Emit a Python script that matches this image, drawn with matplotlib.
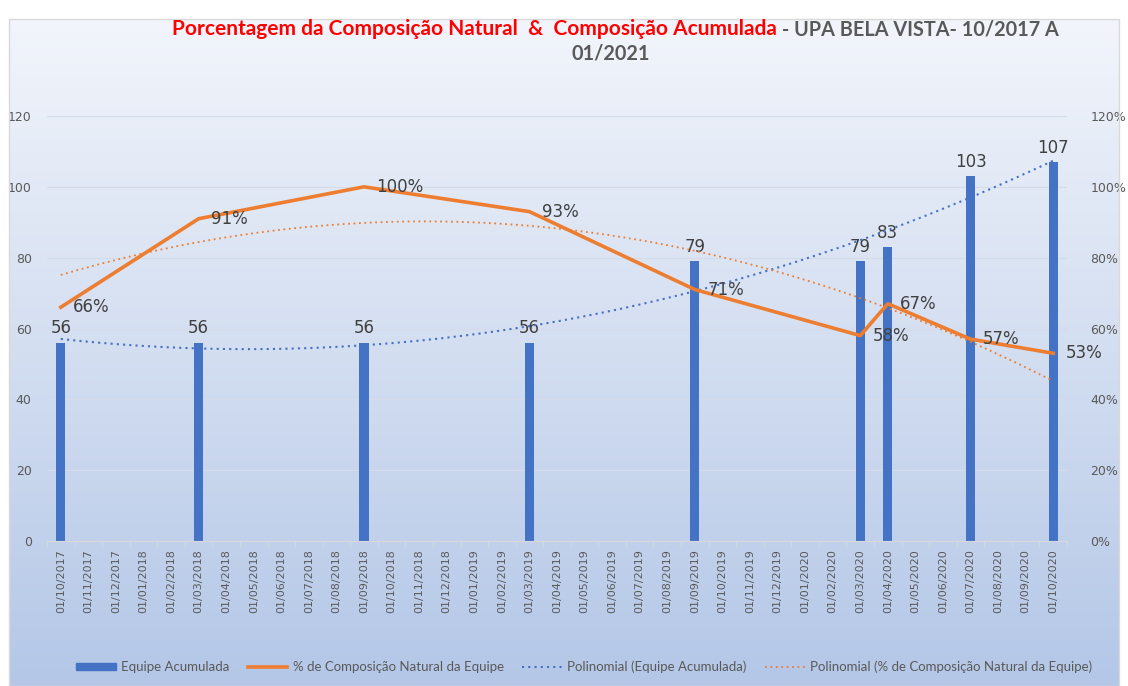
import numpy as np
import matplotlib
matplotlib.use("Agg")
import matplotlib.pyplot as plt
from matplotlib.lines import Line2D
from matplotlib.patches import Patch

# ---- data ----
month_labels = ["01/10/2017", "01/11/2017", "01/12/2017", "01/01/2018", "01/02/2018", "01/03/2018",
                "01/04/2018", "01/05/2018", "01/06/2018", "01/07/2018", "01/08/2018", "01/09/2018",
                "01/10/2018", "01/11/2018", "01/12/2018", "01/01/2019", "01/02/2019", "01/03/2019",
                "01/04/2019", "01/05/2019", "01/06/2019", "01/07/2019", "01/08/2019", "01/09/2019",
                "01/10/2019", "01/11/2019", "01/12/2019", "01/01/2020", "01/02/2020", "01/03/2020",
                "01/04/2020", "01/05/2020", "01/06/2020", "01/07/2020", "01/08/2020", "01/09/2020",
                "01/10/2020"]
data_dates = ["01/10/2017", "01/03/2018", "01/09/2018", "01/03/2019", "01/09/2019",
              "01/03/2020", "01/04/2020", "01/07/2020", "01/10/2020"]
equipe_acumulada = [56, 56, 56, 56, 79, 79, 83, 103, 107]
pct_natural = [66, 91, 100, 93, 71, 58, 67, 57, 53]

title_red = "Porcentagem da Composição Natural  &  Composição Acumulada"
title_grey = " - UPA BELA VISTA- 10/2017 A"
title_line2 = "01/2021"

# ---- styles ----
BLUE = "#4472C4"
ORANGE = "#ED7D31"
TXT = "#595959"
LBL = "#404040"
NARROW = ["Lato", "DejaVu Sans"]

x_all = np.arange(len(month_labels))
xd = np.array([month_labels.index(d) for d in data_dates])

fig = plt.figure(figsize=(11.28, 6.86), dpi=100)
fig.patch.set_facecolor("white")

# gradient background
bg = fig.add_axes([0.008, 0.0, 0.984, 0.972])
grad = np.linspace(0, 1, 256).reshape(-1, 1)
top = np.array([0xf2, 0xf5, 0xfb]) / 255
bot = np.array([0xb4, 0xc7, 0xe7]) / 255
img = top + (bot - top) * grad[:, :, None]
bg.imshow(img, aspect="auto", extent=[0, 1, 0, 1], origin="upper")
bg.set_axis_off()
fig.add_artist(plt.Rectangle((0.008, 0.0), 0.984, 0.972, fill=False, edgecolor="#d9d9d9",
                             lw=1, transform=fig.transFigure))

ax = fig.add_axes([47 / 1128, 1 - 541 / 686, 1020 / 1128, 425 / 686])
ax.patch.set_alpha(0)
ax2 = ax.twinx()
ax2.patch.set_alpha(0)

ax.set_xlim(-0.5, len(month_labels) - 0.5)
ax.set_ylim(0, 120)
ax2.set_ylim(0, 120)
ax.set_yticks(range(0, 121, 20))
ax2.set_yticks(range(0, 121, 20))
ax2.set_yticklabels([f"{v}%" for v in range(0, 121, 20)])
for a in (ax, ax2):
    for s in a.spines.values():
        s.set_visible(False)
    a.tick_params(axis="y", length=0, labelsize=9, labelcolor=TXT)
ax.tick_params(axis="y", pad=11)
ax2.tick_params(axis="y", pad=17)
ax.grid(axis="y", color="#d5dbe8", lw=0.8)
ax.set_axisbelow(True)

ax.set_xticks(x_all)
ax.set_xticklabels(month_labels, rotation=90, fontsize=8, color=TXT)
ax.tick_params(axis="x", length=0, pad=6)
ax.set_xticks(np.arange(-0.5, len(month_labels), 1), minor=True)
ax.tick_params(axis="x", which="minor", length=4, color="#d9d9d9", direction="out")
ax.spines["bottom"].set_visible(True)
ax.spines["bottom"].set_color("#d9d9d9")

# bars
ax.bar(xd, equipe_acumulada, width=0.33, color=BLUE, zorder=2)
for x, v in zip(xd, equipe_acumulada):
    ax.text(x, v + 1.5, str(v), ha="center", va="bottom", fontsize=12, color=LBL)

# trend for bars (polynomial order 2)
xs = np.linspace(0, len(month_labels) - 1, 300)
pb = np.polyfit(xd, equipe_acumulada, 2)
ax.plot(xs, np.polyval(pb, xs), color=BLUE, lw=1.5, ls=(0, (1, 2)), zorder=3)

# percentage line on secondary axis
ax2.plot(xd, pct_natural, color=ORANGE, lw=2.6, zorder=4, solid_joinstyle="round")
pp = np.polyfit(xd, pct_natural, 2)
ax2.plot(xs, np.polyval(pp, xs), color=ORANGE, lw=1.3, ls=(0, (1, 2)), zorder=3)
for x, v in zip(xd, pct_natural):
    ax2.text(x + 0.45, v, f"{v}%", ha="left", va="center", fontsize=12, color=LBL, zorder=5)

# title (size fitted so the red part spans the reference width)
size = 13.5
t1 = fig.text(172 / 1128, 1 - 29 / 686, title_red, color="#FF0000", fontsize=size,
              fontweight="bold", family=NARROW, ha="left", va="center")
fig.canvas.draw()
w = t1.get_window_extent().width
size = size * 603 / w
t1.set_fontsize(size)
fig.canvas.draw()
bb = t1.get_window_extent()
fig.text(bb.x1 / 1128, 1 - 29 / 686, title_grey, color=TXT, fontsize=size * 0.95,
         fontweight="bold", family=NARROW, ha="left", va="center")
fig.text(611 / 1128, 1 - 53 / 686, title_line2, color=TXT, fontsize=size * 0.95,
         fontweight="bold", family=NARROW, ha="center", va="center")

# legend
handles = [Patch(facecolor=BLUE, edgecolor=BLUE),
           Line2D([], [], color=ORANGE, lw=2.6),
           Line2D([], [], color=BLUE, lw=1.5, ls=(0, (1, 2))),
           Line2D([], [], color=ORANGE, lw=1.3, ls=(0, (1, 2)))]
labels = ["Equipe Acumulada", "% de Composição Natural da Equipe",
          "Polinomial (Equipe Acumulada)", "Polinomial (% de Composição Natural da Equipe)"]
leg = fig.legend(handles, labels, loc="center", bbox_to_anchor=(584 / 1128, 1 - 667 / 686),
                 ncol=4, frameon=False, handlelength=3, handleheight=0.5,
                 columnspacing=1.4, handletextpad=0.4, prop={"family": NARROW, "size": 9.5})
for t in leg.get_texts():
    t.set_color(TXT)

fig.savefig("out.png", dpi=100)
